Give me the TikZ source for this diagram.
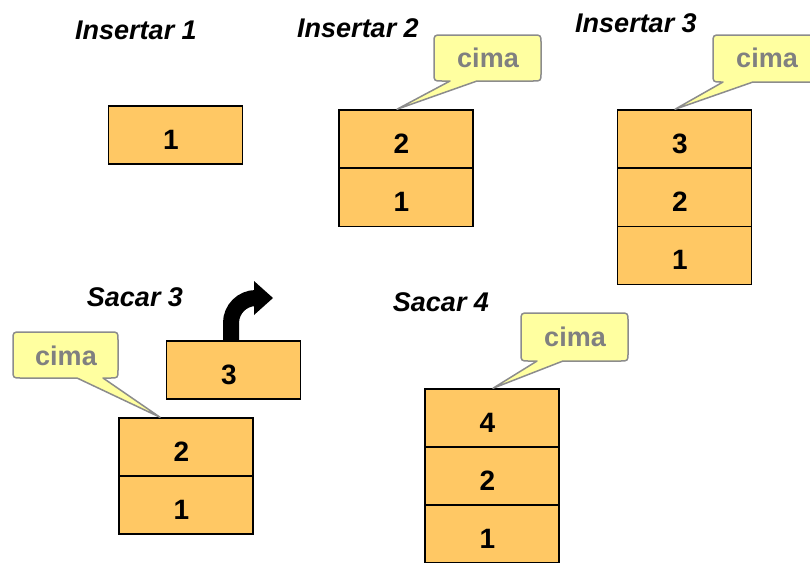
\documentclass[tikz,border=0pt]{standalone}
\usepackage{fontspec}
\setmainfont{Liberation Sans}
\definecolor{boxfill}{RGB}{255,200,100}
\definecolor{callfill}{RGB}{255,255,160}
\definecolor{callline}{RGB}{140,140,140}
\definecolor{calltext}{RGB}{128,128,128}
\newcommand\mycallout[7]{%
  \filldraw[callshape] (#1+8,#2) -- (#3-8,#2) .. controls (#3,#2) .. (#3,#2+8)
   -- (#3,#4-8) .. controls (#3,#4) .. (#3-8,#4) -- (#6,#4) -- #7 -- (#5,#4)
   -- (#1+8,#4) .. controls (#1,#4) .. (#1,#4-8) -- (#1,#2+8)
   .. controls (#1,#2) .. (#1+8,#2) -- cycle;}
\tikzset{
  cell/.style={draw=black, line width=1.5pt, fill=boxfill, minimum width=134pt,
    minimum height=58pt, inner sep=0pt, text height=28pt, text depth=0pt,
    execute at begin node={\hspace*{-9pt}},
    font=\fontsize{28}{32}\selectfont\bfseries},
  head/.style={font=\fontsize{27}{32}\selectfont\bfseries\itshape, inner sep=0pt},
  callshape/.style={draw=callline, fill=callfill, line width=1.5pt, line join=round},
  calltxt/.style={text=calltext, font=\fontsize{27}{32}\selectfont\bfseries, inner sep=0pt},
}
\begin{document}
\begin{tikzpicture}[x=1pt,y=-1pt]
\clip (0,0) rectangle (810,562);
\fill[white] (0,0) rectangle (810,562);

% headings
\node[head] (h1) at (136,30) {Insertar 1};
\node[head] (h2) at (358,28) {Insertar 2};
\node[head] (h3) at (636,23) {Insertar 3};
\node[head] (h4) at (135,297) {Sacar 3};
\node[head] (h5) at (441,302) {Sacar 4};

% Insertar 1
\node[cell] (a1) at (175.5,135) {1};

% Insertar 2
\node[cell] (b2) at (406,139) {2};
\node[cell] (b1) at (406,197.5) {1};

% Insertar 3
\node[cell] (c3) at (684.5,139) {3};
\node[cell] (c2) at (684.5,197.5) {2};
\node[cell] (c1) at (684.5,255.5) {1};

% Sacar 3
\coordinate (arrowend) at (256,298);
\draw[line width=16pt] (231,341) -- (231,323) .. controls (231,309.2) and (242.2,298) .. (arrowend);
\fill (arrowend) ++(-2,-17) -- (273,298) -- (254,315) -- cycle;
\node[cell] (d3) at (233.5,370) {3};
\node[cell] (d2) at (186,447) {2};
\node[cell] (d1) at (186,505) {1};

% Sacar 4
\node[cell] (e4) at (492,418) {4};
\node[cell] (e2) at (492,476) {2};
\node[cell] (e1) at (492,534) {1};

% callouts
\mycallout{434}{35}{541}{81}{450}{477}{([xshift=-9pt]b2.north)}
\node[calltxt] (k2) at (488,58) {cima};
\mycallout{713}{35}{820}{82}{723}{753}{([xshift=-9.5pt]c3.north)}
\node[calltxt] (k3) at (767,58) {cima};
\mycallout{13}{332}{118}{378}{77}{103}{([xshift=-26pt]d2.north)}
\node[calltxt] (k4) at (66,356) {cima};
\mycallout{521}{313}{628}{361}{537}{563}{([xshift=1pt]e4.north)}
\node[calltxt] (k5) at (575,337) {cima};
\end{tikzpicture}
\end{document}
